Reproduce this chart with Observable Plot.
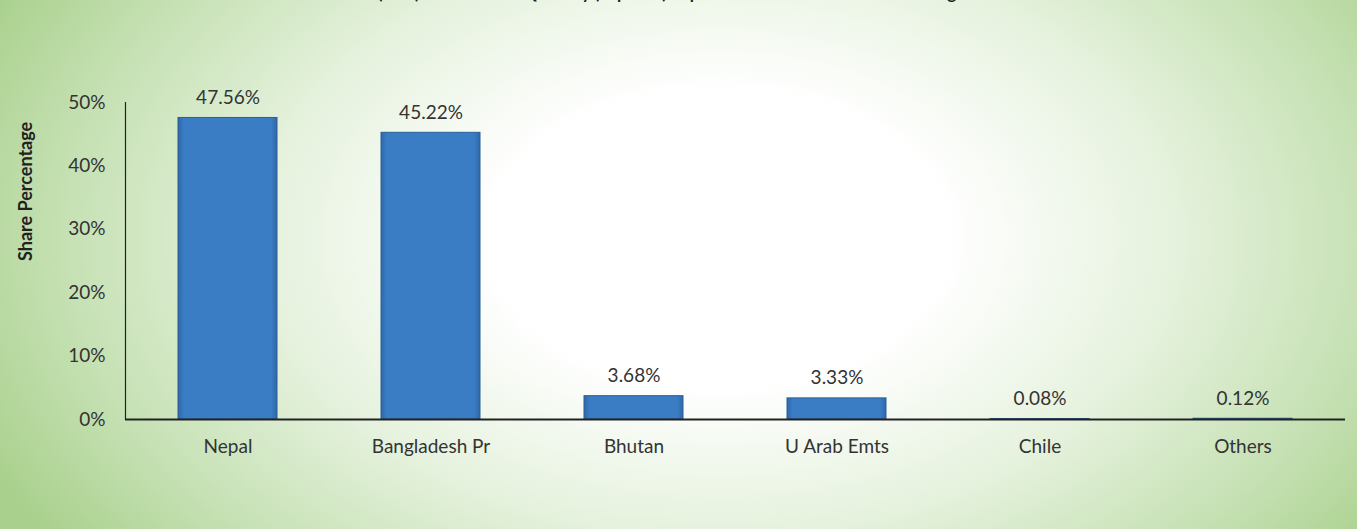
<!DOCTYPE html>
<html>
<head>
<meta charset="utf-8">
<script src="https://cdn.jsdelivr.net/npm/d3@7"></script>
<script src="https://cdn.jsdelivr.net/npm/@observablehq/plot@0.6"></script>
<style>
  html, body { margin: 0; padding: 0; }
  #wrap {
    position: relative; width: 1357px; height: 529px; overflow: hidden;
    background: radial-gradient(ellipse 60% 100% at 53% 45%, #ffffff 0%, #ffffff 28%, #e6f2de 55%, #c6e1b4 80%, #a9d08c 100%);
    font-family: Lato, "Open Sans", sans-serif;
  }
  #title {
    position: absolute; left: 0; width: 1357px; top: -18px; text-align: center;
    font-weight: bold; font-size: 17px; color: #222; white-space: nowrap;
  }
  #chart { position: absolute; left: 0; top: 0; }
</style>
</head>
<body>
<div id="wrap">
  <div id="title">Share (In %) of Estimated Quantity (Top Five) Export Destinations from India during 2022-23</div>
  <div id="chart"></div>
</div>
<script>
const countries = ["Nepal", "Bangladesh Pr", "Bhutan", "U Arab Emts", "Chile", "Others"];
const shares = [47.56, 45.22, 3.68, 3.33, 0.08, 0.12];
const yTicks = [0, 10, 20, 30, 40, 50];
const yLabel = "Share Percentage";

const data = countries.map((c, i) => ({country: c, share: shares[i]}));

const plot = Plot.plot({
  width: 1357,
  height: 529,
  marginLeft: 125,
  marginRight: 12,
  marginTop: 102,
  marginBottom: 110,
  style: {background: "transparent", fontFamily: "Lato, 'Open Sans', sans-serif", fontSize: "19px", color: "#333"},
  x: {domain: countries, paddingInner: 0.51, paddingOuter: 0.255},
  y: {domain: [0, 50]},
  marks: [
    Plot.barY(data, {x: "country", y: "share", fill: "url(#barGrad)", stroke: "#2b5f96", strokeWidth: 1}),
    Plot.text(data, {x: "country", y: "share", text: d => d.share.toFixed(2) + "%", dy: -20, fontSize: 19, fill: "#333"}),
    Plot.axisY({ticks: yTicks, tickSize: 0, tickPadding: 20, tickFormat: d => d + "%", label: null, fontSize: 19, fill: "#333"}),
    Plot.axisX({tickSize: 0, tickPadding: 20, label: null, fontSize: 19, fill: "#333"}),
    Plot.frame({anchor: "left", stroke: "#222", strokeWidth: 1.2}),
    Plot.ruleY([0], {stroke: "#222", strokeWidth: 1.8}),
    Plot.text([yLabel], {frameAnchor: "left", dx: -99, rotate: -90, fontWeight: "bold", fontSize: 18, fill: "#222"})
  ]
});

const ns = "http://www.w3.org/2000/svg";
const defs = document.createElementNS(ns, "defs");
defs.innerHTML = `
  <linearGradient id="barGrad" x1="0" x2="1" y1="0" y2="0">
    <stop offset="0" stop-color="#2f68a8"/>
    <stop offset="0.06" stop-color="#3a7dc4"/>
    <stop offset="0.94" stop-color="#3a7dc4"/>
    <stop offset="1" stop-color="#2f68a8"/>
  </linearGradient>`;
plot.insertBefore(defs, plot.firstChild);
document.getElementById("chart").appendChild(plot);
</script>
</body>
</html>
